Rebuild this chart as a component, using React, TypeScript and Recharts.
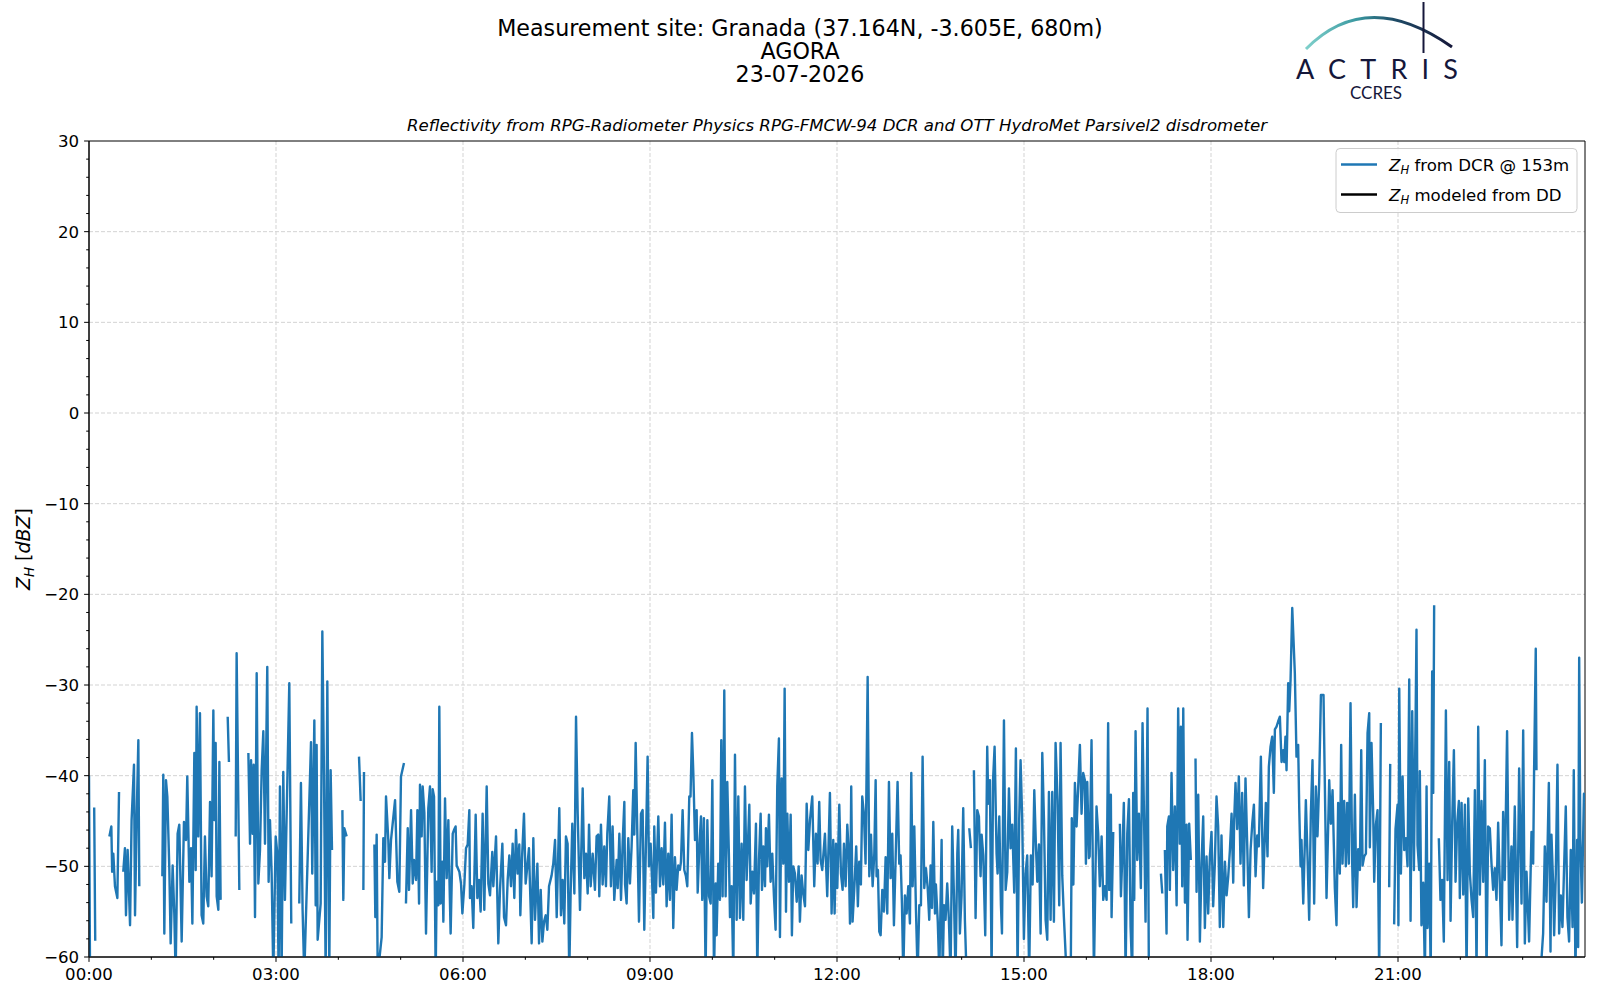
import React from 'react';
import { LineChart, Line, XAxis, YAxis, CartesianGrid, ReferenceArea } from 'recharts';

const FONT = '"DejaVu Sans", "Liberation Sans", sans-serif';

const titleLines = ['Measurement site: Granada (37.164N, -3.605E, 680m)', 'AGORA', '23-07-2026'];
const subtitle = 'Reflectivity from RPG-Radiometer Physics RPG-FMCW-94 DCR and OTT HydroMet Parsivel2 disdrometer';
const legendLabels = ['from DCR @ 153m', 'modeled from DD'];
const seriesColors = ['#1f77b4', '#000000'];

const xMajorTicks = [0, 180, 360, 540, 720, 900, 1080, 1260];
const xTickLabels = ['00:00', '03:00', '06:00', '09:00', '12:00', '15:00', '18:00', '21:00'];
const xMinorTicks = [60, 120, 240, 300, 420, 480, 600, 660, 780, 840, 960, 1020, 1140, 1200, 1320, 1380];
const yMajorTicks = [-60, -50, -40, -30, -20, -10, 0, 10, 20, 30];
const yMinorTicks = [-58, -56, -54, -52, -48, -46, -44, -42, -38, -36, -34, -32, -28, -26, -24, -22, -18, -16, -14, -12, -8, -6, -4, -2, 2, 4, 6, 8, 12, 14, 16, 18, 22, 24, 26, 28];

// [minutes since 00:00, Z_H dBZ] ; null = no data
const dcr_00_04: [number, number | null][] = [
  [0, -40], [1, -62], [3, null], [5, -43.5], [6, -58.2], [12, null],
  [19.6, -46.7], [21.5, -45.6], [22.3, -50.6], [23.4, -48.6], [25, -52.2], [27.3, -53.5], [28.9, -41.8], [31, null],
  [33, -50.6], [34.6, -48], [35.6, -55.4], [37.2, -48.2], [39.5, -56.5], [41, -44.9], [43.3, -38.8], [44.3, -55.4],
  [45.9, -44.5], [47.5, -36.1], [48.4, -52.2], [60, null],
  [70.6, -51.1], [71.5, -39.9], [72.5, -57.4], [74.1, -40.5], [75.4, -42.3], [77.3, -50.2], [78.6, -58.5], [80.5, -49.9],
  [82.1, -55.2], [83.4, -62], [85.3, -46.4], [86.9, -45.4], [89.2, -58.3], [91.4, -45.1], [93.4, -47.1], [94.6, -40.1],
  [96.6, -51.7], [98.2, -48], [99.5, -56.3], [101.4, -37.5], [102.7, -50.4], [103.6, -32.4], [105.2, -46.7], [106.8, -33.1],
  [108.4, -55.4], [110, -56.3], [111.6, -46.7], [113.2, -53.3], [114.8, -54.4], [116.5, -42.9], [118, -51.1], [119.7, -32.8],
  [120.6, -44.9], [121.9, -36.4], [122.9, -53.3], [124.5, -54.8], [125.5, -38.5], [126.7, -53.7], [130, null],
  [133.5, -33.5], [134.7, -38.5], [138, null], [141.2, -46.7], [142.1, -26.5], [144.7, -52.6], [149, null],
  [153.4, -37.5], [155, -47.5], [156, -38.3], [157.5, -46.4], [158.5, -38.8], [159.8, -55.6], [161.4, -28.7], [163, -51.9],
  [164.6, -48.2], [166.2, -39.4], [167.8, -35.1], [169.4, -47.5], [171.6, -28], [172.9, -51.7], [174.2, -44.9], [175.8, -50.8],
  [177.4, -62], [179.7, -46.7], [181.3, -48.6], [182.5, -62], [183.8, -41.2], [185.4, -62], [187, -39.6], [188.6, -53.7],
  [192.8, -29.8], [194.7, -56.3], [198, null], [202.4, -54.1], [204, -40.8], [205.6, -54.8], [207.2, -62], [213.7, -36.3],
  [214.9, -50.8], [216.9, -33.9], [218.2, -54.3], [219.1, -36.6], [220.1, -58.1], [223, -54.1], [224.6, -24.1], [226.2, -39.9],
  [227.8, -62], [229.4, -29.6], [231.3, -62], [232.6, -39.4], [233.9, -48.2], [238, null],
];

const dcr_04_08: [number, number | null][] = [
  [243.9, -43.8], [244.8, -53.7], [245.8, -45.8], [248, -46.7], [254, null], [259.9, -37.9], [261.5, -42.8], [263, null],
  [264.1, -52.6], [264.7, -39.6], [270, null],
  [274.7, -47.6], [275.6, -55.6], [276.9, -46.5], [277.9, -62], [281.7, -57.8], [283.3, -46.9], [284.9, -49.5], [285.9, -42.3],
  [288.1, -47.1], [289.1, -51.3], [290.7, -47.1], [294.6, -42.7], [296.8, -51.7], [298.7, -52.8], [300.3, -40.1], [303.2, -38.6],
  [304.2, null], [305.1, -54.1], [306.8, -45.8], [308, -52.6], [310, -43.8], [311.6, -51.9], [312.8, -49.3], [314.8, -51.5],
  [316.1, -43.8], [317.7, -54.1], [318.6, -41], [320.2, -46.7], [321.2, -41.2], [322.8, -44.1], [324.4, -57.4], [326.6, -43.6],
  [328.2, -41.2], [329.8, -50.6], [330.8, -41.5], [332.1, -42.3], [333.7, -62], [334.7, -51.7], [336.3, -54.3], [337.2, -32.4],
  [338.5, -54.1], [340.1, -49.5], [341.1, -56.1], [342.7, -42.5], [344.3, -51.3], [345.9, -44.9], [346.9, -51.1], [348.1, -57.4],
  [350.1, -46.4], [351.3, -46], [352.9, -45.6], [353.9, -49.9], [356.5, -50.6], [358.1, -51.9], [359.4, -55.2], [361.3, -52],
  [362.9, -48], [364.5, -47.6], [366.1, -43.8], [366.7, -53.5], [368.3, -52.2], [369.9, -56.8], [372.2, -44.3], [373.8, -53.5],
  [375.4, -51.5], [377, -55], [378.9, -44.2], [380.5, -54.8], [382.8, -41.2], [384.4, -51.9], [386, -53.2], [388.2, -48.4],
  [389.2, -52.2], [391.8, -46.7], [394, -58.5], [395.6, -52.6], [397.9, -47.5], [399.5, -55.6], [401.4, -56.5], [403, -51.5],
  [404.6, -48.8], [406.2, -52.2], [407.8, -47.5], [409.4, -53.5], [411, -46], [412.6, -50.8], [414.2, -47.6], [415.2, -55.4],
  [416.8, -49.1], [418.7, -44.2], [420.3, -51.9], [421.9, -50], [423.5, -48], [424.5, -52.2], [426.1, -58.5], [427.7, -46.9],
  [429.3, -55.9], [431.6, -49.7], [433.2, -58.5], [434.8, -52.6], [436.4, -58.3], [438, -56.1], [439.6, -55.4], [441.2, -57],
  [442.8, -52.2], [445.3, -51], [446.9, -49.7], [448.6, -47.1], [450.2, -55.6], [452.7, -43.6], [454.3, -55.4], [455.9, -51.5],
  [457.5, -56.3], [459.1, -46.7], [460.7, -47.5], [462.3, -62], [463.6, -53], [465.2, -45.3], [467.2, -53], [468.8, -33.5],
  [470.4, -44.2],
];

const dcr_08_12: [number, number | null][] = [
  [472.6, -54.8], [475.2, -41.4], [476.8, -51.3], [478.4, -48.6], [480, -53], [481.3, -45.4], [482.9, -52.2], [484.8, -48.6],
  [487, -52.6], [488.6, -46.7], [490.2, -46.5], [491.2, -53.3], [492.8, -45.4], [494.4, -52], [496, -47.8], [497.6, -52.2],
  [498.9, -46.4], [500.8, -42.3], [502.4, -52.2], [504, -45.6], [505.6, -53.7], [507.9, -49.3], [508.9, -52.4], [510.5, -46.4],
  [512.1, -53.7], [513.7, -47.3], [515.3, -42.9], [516, -52], [517.5, -54.1], [519.1, -46.9], [520.7, -51.9], [522.3, -47.8],
  [523.9, -41.6], [524.9, -46.5], [526.2, -36.4], [527.8, -46.4], [529.4, -56.1], [531.3, -44.2], [532.9, -43.8], [534.5, -57],
  [536.1, -47.5], [537.7, -37.9], [539, -50], [540.6, -47.5], [542.2, -52.2], [543.2, -55.7], [544.1, -45.6], [545.7, -52.9],
  [548, -44.5], [549.6, -52.2], [551.2, -48], [552.8, -52], [554.4, -45.2], [556, -54.4], [557.6, -48.6], [559.2, -53.7],
  [560.8, -44.3], [562.4, -56.8], [564, -49], [565.6, -52.6], [567.2, -49.9], [568.8, -50.4], [569.8, -49.5], [571.4, -43.8],
  [573, -50.4], [574.6, -51.1], [575.9, -52.2], [577.8, -42.3], [579, -42.3], [580.4, -35.3], [581.7, -39.7], [583.3, -47.1],
  [584.9, -43.8], [585.9, -52.9], [587.5, -47.8], [589.1, -44.5], [590.3, -53.7], [591.9, -44.7], [593.5, -62], [595.2, -44.9],
  [596.8, -53.3], [598.4, -54.1], [600, -40.5], [601.6, -62], [603.2, -51.9], [604.1, -57.6], [605.7, -49.7], [607.3, -53.7],
  [608.6, -36.1], [609.9, -53.3], [611.5, -30.6], [612.8, -53.3], [614.4, -40.7], [616, -49], [617, -55.6], [618.6, -52.2],
  [620.2, -62], [621.8, -37.7], [623.4, -55.9], [625, -42.3], [626.6, -55.7], [628.2, -47.5], [629.8, -55.9], [631.4, -41.2],
  [633, -51.5], [635.6, -43.2], [636.9, -54.1], [638.5, -50.6], [640.1, -53], [642, -45.3], [643.3, -62], [644.9, -49.3],
  [646.5, -44.2], [647.8, -52.6], [649.1, -47.8], [650.7, -52.2], [651.6, -45.8], [652.9, -50], [654.5, -44.3], [656.1, -51.7],
  [657.7, -48.6], [659.3, -53.3], [660.9, -57], [662.5, -41.2], [664.1, -35.9], [665.1, -57.8], [666.7, -40.3], [668.3, -49.7],
  [669.6, -30.4], [670.9, -55], [672.2, -44.2], [673.8, -51.7], [675.4, -44.3], [676.6, -57.6], [677.9, -50], [679.5, -50.8],
  [681.2, -53.9], [683.1, -50], [684.3, -56.1], [685.9, -51], [687.5, -53], [689.2, -54.4], [690.8, -43.1], [692.4, -48.2],
  [694, -44.9], [696.2, -42.3], [698.1, -52.2], [699.7, -46.4], [701.3, -49.7], [702.9, -42.9], [704.2, -49.3], [705.8, -50.4],
  [708.4, -46.4], [710.6, -53.3],
];

const dcr_12_16: [number, number | null][] = [
  [713.2, -41.9], [714.8, -55.2], [716.4, -47.1], [717.7, -55.2], [719, -47.5], [720.3, -52.4], [722.2, -43.2], [723.8, -50.8],
  [725.4, -52.6], [726.7, -47.5], [728.3, -52.2], [729.9, -45.4], [731.2, -48.2], [732.5, -56.3], [733.7, -41.2], [735, -56.1],
  [736.9, -51.9], [738.5, -47.8], [740.1, -54.4], [741.4, -49.5], [743, -52], [744.3, -42.3], [745.9, -44.2], [747.5, -49.7],
  [749.5, -29.1], [751.1, -51.1], [752.7, -46.5], [754.3, -52.2], [755.9, -48.6], [757.2, -40.5], [758.1, -51.1], [759.4, -50.4],
  [760.7, -57.2], [762, -57.6], [763.6, -52.6], [765.2, -55], [766.8, -49], [768.4, -55.2], [770, -40.7], [771.6, -51.3],
  [773.2, -46.4], [774.8, -56.5], [776.4, -49.3], [778.3, -40.7], [779.9, -49.7], [781.2, -48.8], [782.5, -54.1], [783.8, -62],
  [785.4, -53.2], [787, -55.2], [788.6, -52.2], [790.2, -56.3], [791.5, -39.7], [792.8, -52.2], [794.4, -45.6], [796, -54.8],
  [797.6, -62], [799.2, -54.3], [800.8, -54.3], [802.4, -37.9], [804, -52.4], [805.6, -50.2], [807.2, -52.2], [808.8, -55.9],
  [810.1, -49.9], [811.4, -54.6], [812.7, -45.1], [814.3, -55.2], [815.2, -52], [817, -56.1], [818.5, -62], [820.7, -47.1],
  [821.7, -62], [823, -54.3], [824.5, -55.9], [826.1, -51.9], [827.7, -55.9], [829.3, -62], [830.9, -45.6], [832.5, -52.9],
  [834.1, -62], [835.8, -48.6], [836.7, -46], [838.3, -57.4], [839.9, -53.2], [841.5, -43.6], [843.1, -55.9], [844.7, -62],
  [846, null], [847.3, -45.8], [848.9, -48], [850.5, null],
  [851.8, -39.4], [853.4, -55.7], [855, -43.8], [856.6, -44.5], [858.2, -51.1], [859.2, -46.5], [860.8, -48.8], [862.7, -57.6],
  [864.6, -36.8], [865.6, -43.1], [867.2, -40.5], [868.8, -62], [870.2, -40.5], [871.7, -36.8], [873.6, -48.6], [874.6, -50.8],
  [876.2, -44.5], [877.8, -54.3], [878.8, -57.4], [880.7, -33.9], [882.3, -52.6], [883.9, -50.6], [885.5, -41.4], [887.1, -48],
  [888.7, -45.4], [890.6, -52.9], [892.2, -37], [893.8, -62], [895.4, -44.7], [896.7, -38.3], [898.3, -44.9], [899.9, -58],
  [901.5, -50.8], [903.1, -48.8], [905, -62], [906.6, -48.8], [908.3, -52], [909.9, -41.6], [911.5, -47.8], [912.8, -51.7],
  [914.4, -47.6], [916, -57.4], [917.6, -37.5], [919.2, -44.7], [920.8, -55.9], [922.4, -58.1], [924, -41.8], [925.6, -55.9],
  [927.2, -41.8], [928.8, -56.1], [930.4, -36.4], [932.3, -42.7], [933.9, -54.3], [935.2, -36.4], [936.8, -51], [938.4, -55.6],
  [941, -62], [943, null], [945, -62], [946, -44.7], [947.5, -52], [949, -40.8], [950.6, -45.6],
];

const dcr_16_20: [number, number | null][] = [
  [953.8, -36.6], [955.4, -44.2], [957, -39.7], [958.6, -40.5], [959.6, -49.7], [960.9, -40.7], [962.5, -49.1], [963.2, -48.9],
  [965, -36.1], [967.3, -62], [969.8, -43.4], [971.4, -46.4], [973, -52.2], [974.7, -46.7], [976.3, -53.7], [977.9, -52.2],
  [979.5, -53.7], [981, -34.2], [982, -52.6], [983.6, -42.1], [984.3, -55.6], [985.9, -46.2], [989, null],
  [992.3, -45.3], [993.3, -53.3], [994.9, -48], [996.1, -43], [997.8, -62], [999.4, -46.4], [1001, -42.6], [1002.6, -56.7],
  [1004.2, -62], [1005.1, -41.9], [1006.1, -53.7], [1007.4, -35.1], [1009, -49.3], [1010.6, -44.2], [1012.5, -52.4], [1014.1, -34.2],
  [1015.7, -45.8], [1017, -56.1], [1018.9, -32.6], [1020.2, -62], [1025, null], [1031.8, -50.8], [1033.1, -53], [1034.3, null],
  [1035.6, -48.2], [1037.2, -57.4], [1037.9, -45.6], [1039.5, -44.5], [1040.4, -52.6], [1042, -39.7], [1043.6, -50.4], [1045.2, -43.4],
  [1046.9, -54.3], [1048.4, -32.6], [1050, -47.5], [1051, -34.6], [1052.3, -52.2], [1053.3, -32.6], [1054.9, -54], [1056.5, -45.4],
  [1057.4, -58.1], [1059, -45.3], [1060.6, -49.3], [1063, null],
  [1065.1, -38.1], [1066.1, -52.8], [1067.7, -42.1], [1069.3, -58.3], [1070.9, -49.7], [1072.5, -44.5], [1074.1, -56.8], [1075.7, -48.9],
  [1077.3, -55.2], [1078.9, -48.9], [1080.5, -46.2], [1082.1, -54.4], [1083.7, -49.7], [1085.3, -42.3], [1086.9, -45.6], [1088.5, -56.7],
  [1090.1, -46.6], [1091.8, -56.7], [1093.4, -49.5], [1095, -53.2], [1096.6, -51.1], [1098.2, -48.2], [1099.8, -44.2], [1101.4, -51.8],
  [1102.3, -44.9], [1103.6, -40.8], [1105.2, -45.9], [1106.8, -40.1], [1108.4, -49.7], [1110, -41.9], [1111.6, -52.1], [1113.2, -40.3],
  [1114.9, -47.8], [1116.5, -55.6], [1118.1, -48.2], [1119.7, -45.3], [1121.3, -43.2], [1122.9, -51.1], [1124.5, -46.6], [1126, -47.8],
  [1128, -37.9], [1130.2, -52.4], [1131.8, -46.6], [1132.8, -43], [1134.4, -48.9], [1135.7, -39], [1137.3, -36.8], [1138.9, -35.7],
  [1140.5, -41.9], [1141.5, -34.9], [1143.1, -34.6], [1144.7, -34], [1146.3, -33.5], [1147.9, -38.5], [1149.5, -37.2], [1150.5, -38.5],
  [1151.7, -35.7], [1152.7, -39.4], [1154.3, -29.8], [1155.3, -32.9], [1156.6, -29.4], [1158.2, -21.5], [1160.7, -28.7], [1162.3, -37.9],
  [1163.9, -36.6], [1164.9, -43.4], [1166.2, -50], [1167.1, -47.1], [1168.8, -54.1], [1170.4, -47.1], [1171.3, -42.7], [1172.9, -48.9],
  [1174.5, -55.9], [1176.1, -44.2], [1177.7, -38.3], [1179.3, -54.1], [1180.9, -41.2], [1182.5, -46.7], [1184.1, -40.8],
];

const dcr_20_24: [number, number | null][] = [
  [1185.8, -31.1], [1188.3, -31.1], [1191.2, -53.5], [1193.8, -40.5], [1195.4, -45.3], [1197, -41.6], [1199.2, -52.4], [1200.8, -56.5],
  [1202.4, -43], [1204, -50.8], [1205.3, -36.6], [1206.6, -49.7], [1208.2, -42.8], [1209.8, -50], [1211.1, -43], [1212.7, -49.7],
  [1214.3, -32], [1215.9, -49.7], [1216.9, -54.5], [1218.5, -42.1], [1220.1, -54.5], [1221.7, -48.1], [1223.3, -50.4], [1224.6, -37.2],
  [1225.9, -49.9], [1227.5, -48.9], [1229.1, -48.6], [1230.7, -35.3], [1232.3, -33.1], [1232.9, -47.9], [1234.5, -36.4], [1236.1, -44],
  [1237.1, -51.7], [1238.7, -45.4], [1240.3, -43.8], [1241.9, -62], [1243.5, -34.2], [1246, null], [1251.5, -52.3], [1252.5, -38.7],
  [1254, null], [1256.3, -56.4], [1257.6, -45.9], [1259.6, -43.2], [1260.4, -56.5], [1261.2, -30.4], [1262.8, -50.8], [1264.4, -40.1],
  [1266, -48.2], [1267.6, -46.9], [1269.2, -50], [1270.8, -29.4], [1272.1, -56], [1273.7, -32.9], [1275.3, -50.4], [1276.9, -34.2],
  [1277.8, -23.9], [1278.8, -47.7], [1280.4, -50.4], [1281, -39.5], [1282.6, -56.5], [1284.3, -51.8], [1285.9, -62], [1287.5, -41.2],
  [1288.4, -56.8], [1290, -49.7], [1291.5, -62], [1292.9, -28.5], [1293.9, -41.9], [1294.8, -21.2], [1296.5, null],
  [1299.3, -46.9], [1300.9, -53.7], [1302.5, -51.5], [1304.1, -58.3], [1306.1, -32.8], [1307.7, -51.5], [1309.3, -38.5], [1310.6, -56],
  [1312.2, -45], [1313.8, -37.2], [1315.4, -51.7], [1317, -45.2], [1318.6, -42.8], [1319.5, -53.5], [1321.2, -43], [1322.8, -53.1],
  [1324.4, -43.2], [1326, -62], [1327.6, -42.5], [1329.2, -50.8], [1330.8, -53.7], [1332.4, -55.6], [1334, -41.6], [1335.6, -62],
  [1337.2, -34.6], [1338.8, -53.1], [1340.4, -42.8], [1342, -51.7], [1343.6, -38.3], [1345.2, -62], [1346.8, -45.6], [1348.4, -45.8],
  [1350, -49.7], [1351.6, -52.6], [1353.2, -50.2], [1354.8, -53.7], [1356.4, -45.2], [1359.6, -58.7], [1361.2, -44], [1362.8, -51.5],
  [1365, -35.1], [1367, -55.9], [1369.2, -47.8], [1370.2, -55.9], [1372.4, -43.4], [1374.7, -58.9], [1376.6, -39.2], [1378.9, -54.1],
  [1380.5, -35], [1382.1, -58.5], [1383.7, -50.6], [1386.2, -58.3], [1388.5, -46.2], [1390.1, -49.7], [1391, -39.4], [1392.6, -26],
  [1393.3, -39.4], [1395, null], [1397.1, -62], [1399.7, -57.4], [1401.3, -47.8], [1402.9, -53.9], [1405.2, -40.8], [1406.8, -59.4],
  [1407.7, -46.5], [1409.3, -51.9], [1410.3, -57.6], [1411.9, -50.8], [1413.5, -38.8], [1415.1, -57.4], [1416.7, -53.2], [1418.3, -56.7],
  [1421.5, -43.4], [1423.1, -55.6], [1424.7, -58.3], [1426.3, -48.2], [1428, -56.7], [1429.2, -39.4], [1430.8, -62], [1432.4, -47.1],
  [1433.4, -58.9], [1434.4, -27], [1435.5, -47], [1437, -54], [1439, -42], [1440, -43],
];

const data = [...dcr_00_04, ...dcr_04_08, ...dcr_08_12, ...dcr_12_16, ...dcr_16_20, ...dcr_20_24].map(([t, v]) => ({ t, zh: v }));

const allXTicks = [...xMajorTicks, ...xMinorTicks].sort((a, b) => a - b);
const allYTicks = [...yMajorTicks, ...yMinorTicks].sort((a, b) => a - b);

const TICK_FS = 16.6;

const XTick = (props: any) => {
  const { x, y, payload } = props;
  const idx = xMajorTicks.indexOf(payload.value);
  const major = idx >= 0;
  return (
    <g>
      <line x1={x} x2={x} y1={y} y2={y + (major ? 4.9 : 2.8)} stroke="#000" strokeWidth={1} />
      {major && (
        <text x={x} y={y + 23.3} textAnchor="middle" fontSize={TICK_FS} fontFamily={FONT} fill="#000">
          {xTickLabels[idx]}
        </text>
      )}
    </g>
  );
};

const fmtY = (v: number) => (v < 0 ? '\u2212' + Math.abs(v) : String(v));

const YTick = (props: any) => {
  const { x, y, payload } = props;
  const major = yMajorTicks.indexOf(payload.value) >= 0;
  return (
    <g>
      <line x1={x - (major ? 4.9 : 2.8)} x2={x} y1={y} y2={y} stroke="#000" strokeWidth={1} />
      {major && (
        <text x={x - 9.8} y={y + 6} textAnchor="end" fontSize={TICK_FS} fontFamily={FONT} fill="#000">
          {fmtY(payload.value)}
        </text>
      )}
    </g>
  );
};

const ZH = ({ size }: { size: number }) => (
  <>
    <tspan fontStyle="italic">Z</tspan>
    <tspan fontStyle="italic" fontSize={size * 0.7} dy={size * 0.2}>H</tspan>
    <tspan dy={-size * 0.2}> </tspan>
  </>
);

export default function App() {
  return (
    <div style={{ position: 'absolute', left: 0, top: 0, width: 1600, height: 1000, background: '#fff' }}>
      <LineChart width={1600} height={1000} data={data} margin={{ top: 141, right: 15, bottom: 0, left: 29 }}>
        <CartesianGrid
          stroke="#d3d3d3"
          strokeWidth={1}
          strokeDasharray="4 2"
          horizontalValues={yMajorTicks.slice(1, -1)}
          verticalValues={xMajorTicks.slice(1)}
        />
        <XAxis
          dataKey="t"
          type="number"
          domain={[0, 1440]}
          allowDataOverflow
          ticks={allXTicks}
          interval={0}
          tickSize={0}
          tickMargin={0}
          tickLine={false}
          tick={<XTick />}
          height={43}
          axisLine={{ stroke: '#000', strokeWidth: 1 }}
        />
        <YAxis
          type="number"
          domain={[-60, 30]}
          allowDataOverflow
          ticks={allYTicks}
          interval={0}
          tickSize={0}
          tickMargin={0}
          tickLine={false}
          tick={<YTick />}
          width={60}
          axisLine={{ stroke: '#000', strokeWidth: 1 }}
        />
        <Line
          type="linear"
          dataKey="zh"
          stroke={seriesColors[0]}
          strokeWidth={2.4}
          strokeLinejoin="round"
          dot={false}
          activeDot={false}
          connectNulls={false}
          isAnimationActive={false}
        />
        <ReferenceArea x1={0} x2={1440} y1={-60} y2={30} fill="none" fillOpacity={0} stroke="#000" strokeWidth={1} />
      </LineChart>

      <svg width={1600} height={1000} style={{ position: 'absolute', left: 0, top: 0, pointerEvents: 'none' }}>
        <defs>
          <linearGradient id="arcGrad" x1="1306" y1="0" x2="1452" y2="0" gradientUnits="userSpaceOnUse">
            <stop offset="0%" stopColor="#7fd0cb" />
            <stop offset="35%" stopColor="#3a98a0" />
            <stop offset="60%" stopColor="#1f4d68" />
            <stop offset="100%" stopColor="#15173a" />
          </linearGradient>
        </defs>
        {titleLines.map((s, i) => (
          <text key={i} x={800} y={36 + i * 23} textAnchor="middle" fontSize={22.2} fontFamily={FONT} fill="#000">
            {s}
          </text>
        ))}
        <text x={837} y={131} textAnchor="middle" fontSize={16.6} fontStyle="italic" fontFamily={FONT} fill="#000">
          {subtitle}
        </text>
        <text transform="translate(30,549) rotate(-90)" textAnchor="middle" fontSize={19} fontFamily={FONT} fill="#000">
          <ZH size={19} />
          <tspan>[</tspan>
          <tspan fontStyle="italic">dBZ</tspan>
          <tspan>]</tspan>
        </text>

        {/* legend */}
        <rect x={1336} y={148.5} width={241} height={64} rx={4} fill="#fff" fillOpacity={0.8} stroke="#cccccc" strokeWidth={1} />
        {legendLabels.map((lab, i) => (
          <g key={i}>
            <line x1={1341} x2={1377} y1={164.5 + i * 30} y2={164.5 + i * 30} stroke={seriesColors[i]} strokeWidth={2.4} />
            <text x={1389} y={170.5 + i * 30} fontSize={16.6} fontFamily={FONT} fill="#000">
              <ZH size={16.6} />
              <tspan>{lab}</tspan>
            </text>
          </g>
        ))}

        {/* logo */}
        <path d="M 1306 49 Q 1367 -13 1452 47" fill="none" stroke="url(#arcGrad)" strokeWidth={3} />
        <line x1={1423.5} x2={1423.5} y1={2} y2={53} stroke="#15173a" strokeWidth={2} />
        <text x={1296} y={78.5} fontSize={27} fontFamily='Lato, "Open Sans", sans-serif' fill="#15173a" textLength={162} lengthAdjust="spacing">
          ACTRIS
        </text>
        <text x={1350} y={98.5} fontSize={17} fontFamily='Lato, "Open Sans", sans-serif' fill="#15173a" textLength={52} lengthAdjust="spacing">
          CCRES
        </text>
      </svg>
    </div>
  );
}
